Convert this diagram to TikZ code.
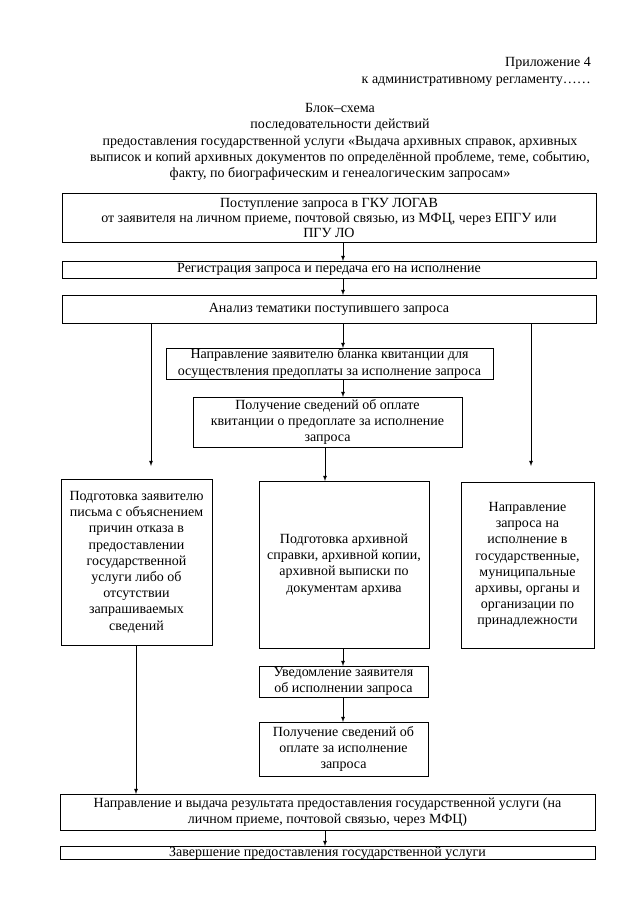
\documentclass[tikz,border=0pt]{standalone}
\usepackage{fontspec}
\setmainfont{Liberation Serif}
\usetikzlibrary{arrows}
\newcommand{\blockfont}{\fontsize{14}{16.2}\selectfont}
\tikzstyle{block}=[draw,line width=.8pt,align=center,anchor=north west,inner sep=.5pt,outer sep=0pt,font=\blockfont]
\tikzstyle{plain}=[align=center,inner sep=0pt,font=\blockfont]
\tikzstyle{edge} = [draw,line width=.8pt,->,>=latex]

\begin{document}
\begin{tikzpicture}[x=1pt,y=-1pt]
        \useasboundingbox (0,0) rectangle (640,905);
        %\fill[white] (0,0) rectangle (640,905);
        \node[plain,align=right,anchor=east] (annex) at (591,72) {Приложение 4\\к административному регламенту……};
        \node[plain] (title) at (340,142) {Блок–схема\\последовательности действий\\предоставления государственной услуги «Выдача архивных справок, архивных\\выписок и копий архивных документов по определённой проблеме, теме, событию,\\факту, по биографическим и генеалогическим запросам»};

        \node[block,minimum width=534pt,minimum height=49pt,font=\fontsize{14}{15}\selectfont] (req) at (62,193) {Поступление запроса в ГКУ ЛОГАВ\\от заявителя на личном приеме, почтовой связью, из МФЦ, через ЕПГУ или\\ПГУ ЛО};
        \node[block,minimum width=534pt,minimum height=17pt] (reg) at (62,261) {Регистрация запроса и передача его на исполнение};
        \node[block,minimum width=534pt,minimum height=28pt] (anal) at (62,295) {Анализ тематики поступившего запроса};
        \node[block,minimum width=327pt,minimum height=31pt] (blank) at (166,348) {Направление заявителю бланка квитанции для\\осуществления предоплаты за исполнение запроса};
        \node[block,minimum width=269pt,minimum height=50pt] (paid) at (193,397) {Получение сведений об оплате\\квитанции о предоплате за исполнение\\запроса};

        \node[block,minimum width=151pt,minimum height=166pt] (refuse) at (61,479) {Подготовка заявителю\\письма с объяснением\\причин отказа в\\предоставлении\\государственной\\услуги либо об\\отсутствии\\запрашиваемых\\сведений};
        \node[block,minimum width=170pt,minimum height=167pt] (arch) at (259,481) {Подготовка архивной\\справки, архивной копии,\\архивной выписки по\\документам архива};
        \node[block,minimum width=133pt,minimum height=166pt] (forward) at (461,482) {Направление\\запроса на\\исполнение в\\государственные,\\муниципальные\\архивы, органы и\\организации по\\принадлежности};

        \node[block,minimum width=169pt,minimum height=31pt] (notify) at (259,666) {Уведомление заявителя\\об исполнении запроса};
        \node[block,minimum width=169pt,minimum height=54pt] (fee) at (259,722) {Получение сведений об\\оплате за исполнение\\запроса};
        \node[block,minimum width=535pt,minimum height=36pt] (issue) at (60,794) {Направление и выдача результата предоставления государственной услуги (на\\личном приеме, почтовой связью, через МФЦ)};
        \node[block,minimum width=535pt,minimum height=13pt] (finish) at (60,846) {Завершение предоставления государственной услуги};

        % columns of the connectors
        \coordinate (mid) at (343,0);
        \coordinate (left) at (151,0);
        \coordinate (right) at (531,0);
        \coordinate (pay) at (325,0);
        \coordinate (out) at (136,0);

        \draw[edge] (req.south -| mid) to (reg.north -| mid);
        \draw[edge] (reg.south -| mid) to (anal.north -| mid);
        \draw[edge] (anal.south -| mid) to (blank.north -| mid);
        \draw[edge] (blank.south -| mid) to (paid.north -| mid);
        \draw[edge] (paid.south -| pay) to (arch.north -| pay);
        \draw[edge,shorten >=13pt] (anal.south -| left) to (refuse.north -| left);
        \draw[edge,shorten >=16pt] (anal.south -| right) to (forward.north -| right);
        \draw[edge] (arch.south -| mid) to (notify.north -| mid);
        \draw[edge] (notify.south -| mid) to (fee.north -| mid);
        \draw[edge] (refuse.south -| out) to (issue.north -| out);
        \draw[edge] (issue.south -| pay) to (finish.north -| pay);
      \end{tikzpicture}
\end{document}
